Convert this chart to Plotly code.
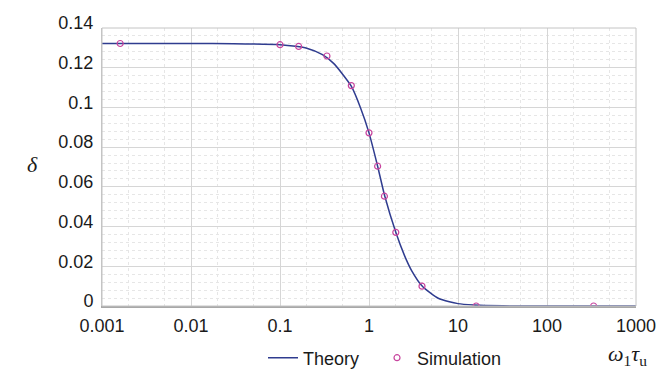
import plotly.graph_objects as go

# Theory curve
theory_x = [0.001, 0.003, 0.01, 0.03, 0.1, 0.15, 0.2, 0.3, 0.4, 0.5, 0.63, 0.8, 1.0, 1.25, 1.5, 2.0,
            2.5, 3.0, 4.0, 6.0, 8.0, 10.0, 15.0, 20.0, 50.0, 100.0, 1000.0]
theory_y = [0.1322, 0.1322, 0.1322, 0.1321, 0.1316, 0.1308, 0.1298, 0.1266, 0.1222, 0.117, 0.1108, 0.1,
            0.0872, 0.0704, 0.0555, 0.0371, 0.0255, 0.018, 0.0098, 0.0039, 0.0021, 0.0012, 0.0005,
            0.0002, 0.0, 0.0, 0.0]

# Simulation points
sim_x = [0.0016, 0.1, 0.162, 0.337, 0.633, 1.0, 1.25, 1.49, 2.0, 3.94, 16.0, 334.0]
sim_y = [0.1322, 0.1316, 0.1307, 0.1259, 0.1110, 0.0872, 0.0704, 0.0553, 0.0371, 0.0100, 0.0, 0.0]

x_tickvals = [0.001, 0.01, 0.1, 1, 10, 100, 1000]
x_ticktext = ["0.001", "0.01", "0.1", "1", "10", "100", "1000"]
y_tickvals = [0, 0.02, 0.04, 0.06, 0.08, 0.1, 0.12, 0.14]
y_ticktext = ["0", "0.02", "0.04", "0.06", "0.08", "0.1", "0.12", "0.14"]

FONT = "Liberation Sans, Arial, sans-serif"
SERIF = "Liberation Serif, Times New Roman, serif"

fig = go.Figure()
fig.add_trace(go.Scatter(
    x=theory_x, y=theory_y, mode="lines", name="Theory", legend="legend",
    line=dict(color="#2f3c8f", width=1.5, shape="spline", smoothing=0.6),
))
fig.add_trace(go.Scatter(
    x=sim_x, y=sim_y, mode="markers", name="Simulation", legend="legend2",
    marker=dict(symbol="circle-open", size=6, color="#c8449e", line=dict(width=1.2, color="#c8449e")),
))

legend_common = dict(
    orientation="h", xanchor="left", y=-0.187, yanchor="middle",
    font=dict(family=FONT, size=18, color="#1a1a1a"),
    bgcolor="rgba(0,0,0,0)", itemwidth=30,
)

fig.update_layout(
    width=669, height=370,
    margin=dict(l=102, r=33, t=28, b=64, pad=0, autoexpand=False),
    paper_bgcolor="white", plot_bgcolor="white",
    font=dict(family=FONT, size=18, color="#1a1a1a"),
    showlegend=True,
    legend=dict(x=0.3015, **legend_common),
    legend2=dict(x=0.515, **legend_common),
    xaxis=dict(
        type="log", range=[-3, 3],
        tickvals=x_tickvals, ticktext=x_ticktext,
        showgrid=True, gridcolor="#d6d6d6", gridwidth=1,
        showline=True, linecolor="#a8a8a8", linewidth=1.5, mirror=False,
        ticks="", zeroline=False,
        ticklabelstandoff=3,
        minor=dict(showgrid=True, gridcolor="#e6e6e6", griddash="dot", gridwidth=1, ticks=""),
    ),
    yaxis=dict(
        range=[0, 0.14],
        tickvals=y_tickvals, ticktext=y_ticktext,
        showgrid=True, gridcolor="#d6d6d6", gridwidth=1,
        showline=True, linecolor="#c4c4c4", linewidth=1, mirror=False,
        ticks="", zeroline=False,
        ticklabelstandoff=4, ticklabelshift=-5,
        minor=dict(showgrid=True, gridcolor="#e6e6e6", griddash="dot", gridwidth=1, dtick=0.004, ticks=""),
    ),
)

# Plot border (top/right)
fig.add_shape(type="rect", xref="paper", yref="paper", x0=0, y0=0, x1=1, y1=1,
              line=dict(color="#c4c4c4", width=1), layer="above")

# Axis titles
fig.add_annotation(xref="paper", yref="paper", x=-0.13, y=0.51, xanchor="center", yanchor="middle",
                   text="<i>δ</i>", showarrow=False,
                   font=dict(family=SERIF, size=22, color="#1a1a1a"))
fig.add_annotation(xref="paper", yref="paper", x=0.985, y=-0.175, xanchor="center", yanchor="middle",
                   text="<i>ω</i><sub>1</sub><i>τ</i><sub>u</sub>", showarrow=False,
                   font=dict(family=SERIF, size=22, color="#1a1a1a"))

fig.write_html("out.html")
